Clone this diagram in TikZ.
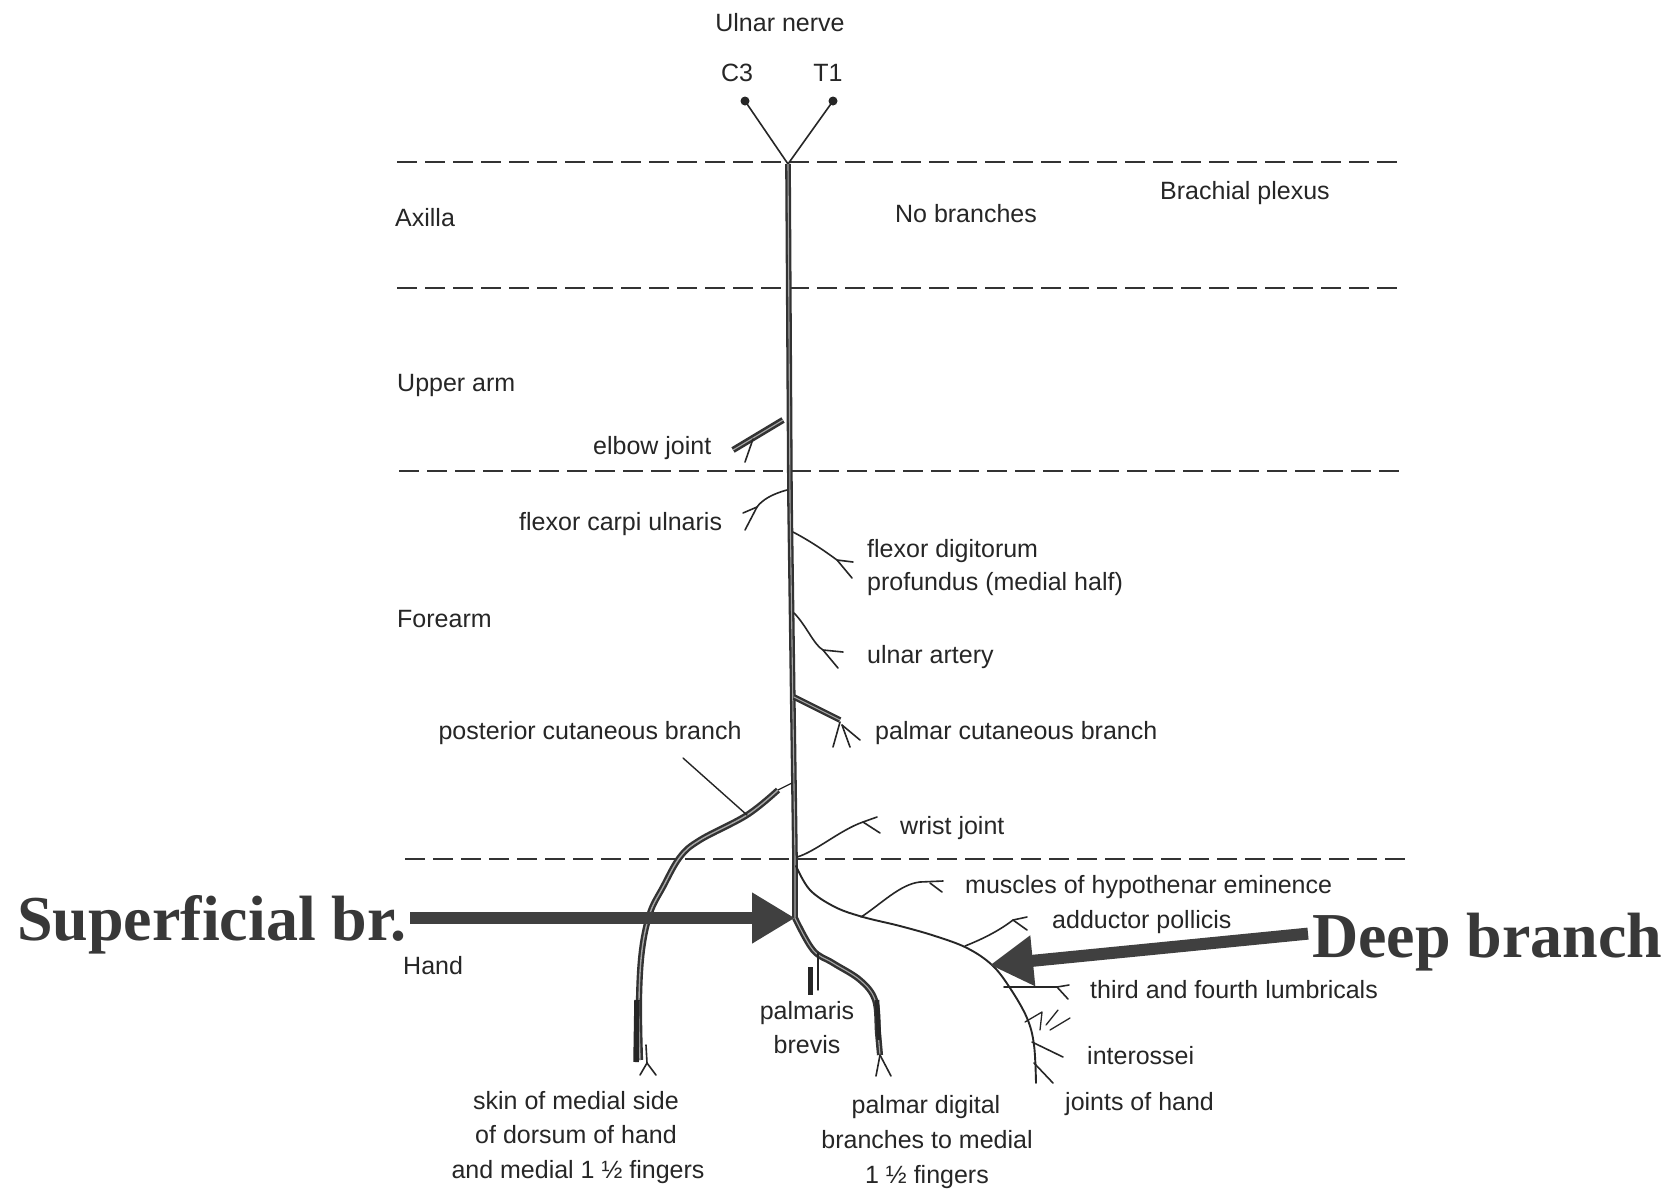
\documentclass[tikz,border=0pt]{standalone}
\usepackage{fontspec}
\setmainfont{Liberation Sans}
\newfontfamily\bigserif{Liberation Serif}
\usetikzlibrary{arrows.meta}
\begin{document}
\begin{tikzpicture}[x=1pt,y=-1pt,
  lbl/.style={anchor=west, inner sep=0pt, font=\fontsize{25}{30}\selectfont, text=black!85, text height=18pt, text depth=5pt},
  clbl/.style={lbl, anchor=center},
  big/.style={anchor=base west, inner sep=0pt, font=\bigserif\bfseries\fontsize{64}{70}\selectfont, text=black!78},
  sep/.style={draw=black!80, line width=2.4pt, dash pattern=on 20pt off 8pt},
  nerve/.style={draw=black!80, line width=2.3pt, double=black!35, double distance=1.1pt, line join=round},
  twig/.style={draw=black!85, line width=1.6pt, line cap=round, line join=round},
  bigarrow/.style={draw=black!75, line width=12pt, -{Triangle[length=43pt,width=48pt]}},
]
\useasboundingbox (0,0) rectangle (1670,1195);
\fill[white] (0,0) rectangle (1670,1195);

% separators
\draw[sep] (397,162) -- (1402,162);
\draw[sep] (397,288) -- (1403,288);
\draw[sep] (399,471) -- (1405,471);
\draw[sep] (405,859) -- (1412,859);

% roots
\coordinate (Y) at (788,164);
\coordinate (S) at (795,918);
\fill[black!85] (745,101) circle[radius=4.5pt] coordinate (c3dot);
\fill[black!85] (833,101) circle[radius=4.5pt] coordinate (t1dot);
\draw[twig] (c3dot) -- (Y) -- (t1dot);

% main trunk
\draw[nerve] (Y) -- (790,500) -- (795,860) -- (S);

% elbow joint
\draw[nerve, line width=2.6pt] (783,420) -- (733,450);
\draw[twig] (753,439) -- (745,462);
% flexor carpi ulnaris
\draw[twig] (787,490) .. controls (772,494) and (762,500) .. (757,507) -- (743,513);
\draw[twig] (757,507) -- (745,530);
% flexor digitorum profundus
\draw[twig] (793,532) .. controls (812,542) and (826,552) .. (837,560) -- (853,562);
\draw[twig] (837,560) -- (852,578);
% ulnar artery
\draw[twig] (794,613) .. controls (806,625) and (814,645) .. (823,650) -- (843,652);
\draw[twig] (823,650) -- (838,668);
% palmar cutaneous
\draw[nerve] (794,697) -- (840,720);
\draw[twig] (840,722) -- (833,747);
\draw[twig] (842,725) -- (850,747);
\draw[twig] (842,725) -- (860,740);
% wrist joint
\draw[twig] (797,857) .. controls (815,852) and (840,830) .. (863,822) -- (877,817);
\draw[twig] (863,822) -- (880,833);

% posterior cutaneous branch
\draw[twig, line width=1.3pt] (792,783) -- (778,790);
\draw[nerve, line width=2.4pt, double distance=1.4pt] plot[smooth, tension=0.6] coordinates {(778,790) (747,815) (700,840) (680,857) (663,887) (650,913) (642,950) (639,1000) (640,1060)};
\draw[black!85, line width=5.5pt] (637,1000) -- (636,1062);
\draw[twig] (646,1045) -- (647,1063) -- (640,1075);
\draw[twig] (647,1063) -- (656,1075);
\draw[twig, line width=1.4pt] (683,758) -- (747,815);

% superficial branch
\draw[nerve, line width=2.5pt] plot[smooth, tension=0.6] coordinates {(S) (813,950) (833,963) (860,980) (875,1000) (878,1033) (880,1055)};
\draw[black!85, line width=4.5pt] (877,1000) -- (879,1040);
\draw[twig] (880,1055) -- (876,1076);
\draw[twig] (880,1055) -- (891,1076);
% palmaris brevis
\draw[black!85, line width=5pt] (810,967) -- (810,995);
\draw[twig, line width=1.3pt] (818,953) -- (818,990);

% deep branch
\draw[twig, line width=1.9pt] plot[smooth, tension=0.6] coordinates {(796,866) (810,890) (835,907) (863,917) (900,926) (935,936) (967,948) (992,965) (1010,988) (1027,1018) (1034,1045) (1036,1083)};
% hypothenar
\draw[twig] (861,917) .. controls (880,905) and (900,884) .. (920,882) -- (943,881);
\draw[twig] (930,883) -- (942,892);
% adductor
\draw[twig] (965,946) .. controls (985,938) and (1000,930) .. (1013,920) -- (1027,917);
\draw[twig] (1013,920) -- (1027,930);
% lumbricals
\draw[twig] (1004,987) -- (1057,987) -- (1069,985);
\draw[twig] (1057,987) -- (1068,999);
% small twigs
\draw[twig, line width=1.3pt] (1025,1022) -- (1042,1012) -- (1040,1030);
\draw[twig, line width=1.3pt] (1046,1025) -- (1058,1010);
\draw[twig, line width=1.3pt] (1050,1030) -- (1070,1018);
% interossei
\draw[twig] (1032,1042) -- (1063,1057);
% joints
\draw[twig] (1034,1063) -- (1053,1083);

% arrows and big labels
\node[big] (sup) at (17,940) {Superficial br.};
\node[big] (deep) at (1312,957) {Deep branch};
\coordinate (D) at (990,965);
\draw[bigarrow] ([xshift=4pt]sup.east |- S) -- (S);
\draw[bigarrow] ([xshift=-4pt,yshift=8pt]deep.west) -- (D);

% labels
\node[clbl] (ulnar) at (780,25) {Ulnar nerve};
\node[clbl] (c3) at (737,75) {C3};
\node[clbl] (t1) at (828,75) {T1};
\node[lbl] (axilla) at (395,220) {Axilla};
\node[clbl] (nob) at (966,216) {No branches};
\node[lbl] (brach) at (1160,193) {Brachial plexus};
\node[lbl] (upper) at (397,385) {Upper arm};
\node[lbl] (elbow) at (593,448) {elbow joint};
\node[lbl] (fcu) at (519,524) {flexor carpi ulnaris};
\node[lbl] (fdp1) at (867,551) {flexor digitorum};
\node[lbl] (fdp2) at (867,584) {profundus (medial half)};
\node[lbl] (forearm) at (397,621) {Forearm};
\node[lbl] (ua) at (867,657) {ulnar artery};
\node[lbl] (pcb) at (875,733) {palmar cutaneous branch};
\node[clbl] (post) at (590,733) {posterior cutaneous branch};
\node[lbl] (wrist) at (900,828) {wrist joint};
\node[lbl] (hypo) at (965,887) {muscles of hypothenar eminence};
\node[lbl] (add) at (1052,922) {adductor pollicis};
\node[lbl] (hand) at (403,968) {Hand};
\node[lbl] (lumb) at (1090,992) {third and fourth lumbricals};
\node[clbl] (palm1) at (807,1013) {palmaris};
\node[clbl] (palm2) at (807,1047) {brevis};
\node[lbl] (inter) at (1087,1058) {interossei};
\node[lbl] (joints) at (1065,1104) {joints of hand};
\node[clbl] (skin1) at (576,1103) {skin of medial side};
\node[clbl] (skin2) at (576,1137) {of dorsum of hand};
\node[clbl] (skin3) at (578,1172) {and medial 1 ½ fingers};
\node[clbl] (pd1) at (926,1107) {palmar digital};
\node[clbl] (pd2) at (927,1142) {branches to medial};
\node[clbl] (pd3) at (927,1177) {1 ½ fingers};
\end{tikzpicture}
\end{document}
